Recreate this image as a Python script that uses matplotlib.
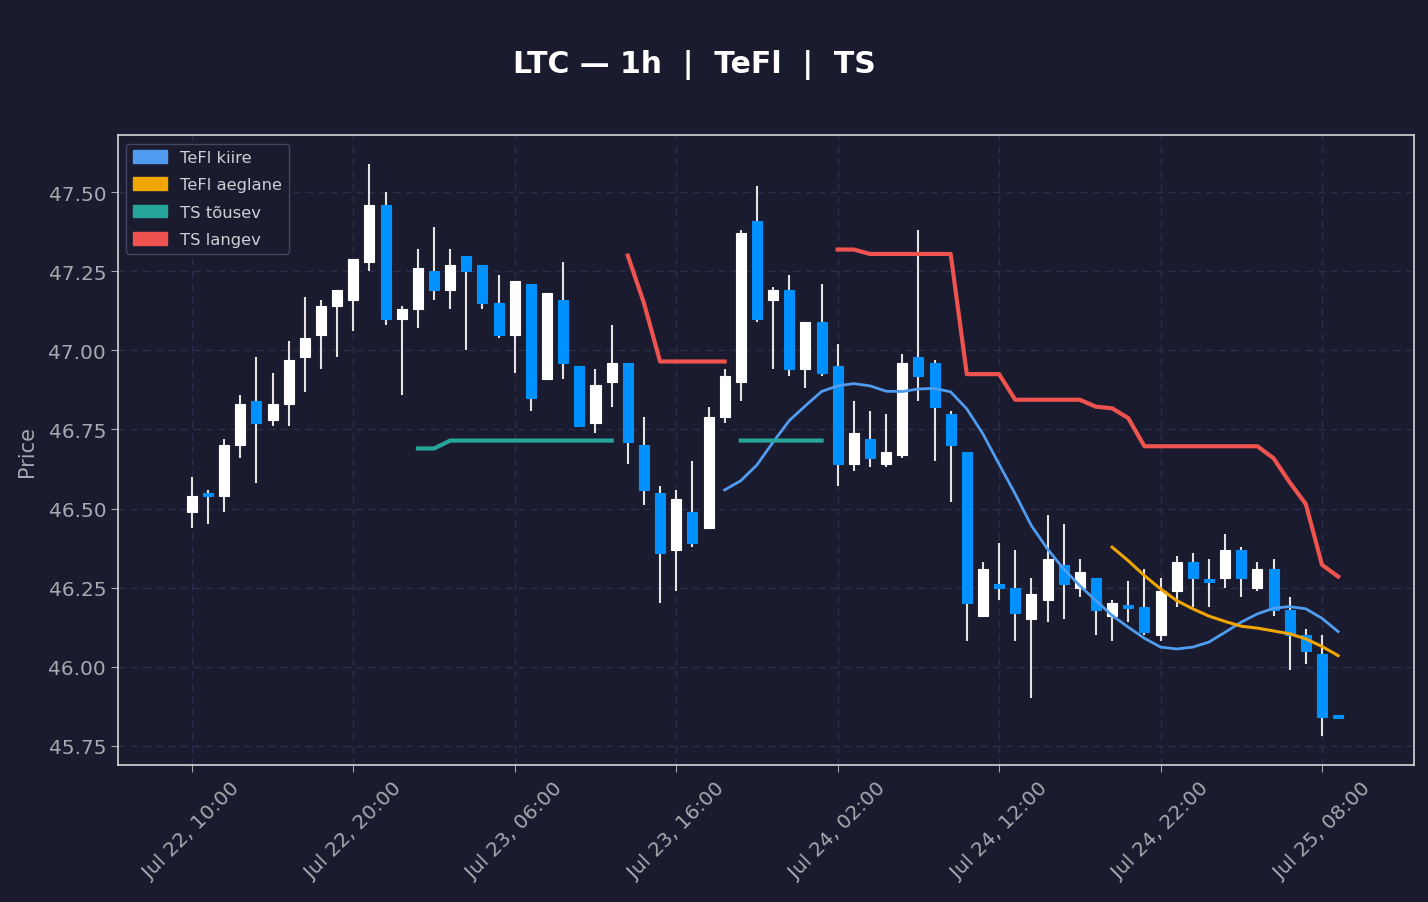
import numpy as np
import pandas as pd
import matplotlib
matplotlib.use("Agg")
import matplotlib.pyplot as plt
import matplotlib.dates as mdates
from matplotlib.patches import Patch

# hourly candles, Jul 22 10:00 -> Jul 25 09:00
times = pd.date_range("2025-07-22 10:00", periods=72, freq="h")

opens = [46.49, 46.545, 46.54, 46.70, 46.84, 46.78, 46.83, 46.98, 47.05, 47.14,
         47.16, 47.28, 47.46, 47.10, 47.13, 47.25, 47.19, 47.30, 47.27, 47.15,
         47.05, 47.21, 46.91, 47.16, 46.95, 46.77, 46.90, 46.96, 46.70, 46.55,
         46.37, 46.49, 46.44, 46.79, 46.90, 47.41, 47.16, 47.19, 46.94, 47.09,
         46.95, 46.64, 46.72, 46.64, 46.67, 46.98, 46.96, 46.80, 46.68, 46.16,
         46.26, 46.25, 46.15, 46.21, 46.32, 46.25, 46.28, 46.16, 46.19, 46.19,
         46.10, 46.24, 46.33, 46.27, 46.28, 46.37, 46.25, 46.31, 46.18, 46.10,
         46.04, 45.84]
highs = [46.60, 46.56, 46.72, 46.86, 46.98, 46.93, 47.03, 47.17, 47.16, 47.19,
         47.29, 47.59, 47.50, 47.14, 47.32, 47.39, 47.32, 47.30, 47.27, 47.24,
         47.22, 47.21, 47.18, 47.28, 46.95, 46.94, 47.08, 46.96, 46.79, 46.57,
         46.56, 46.65, 46.82, 46.94, 47.38, 47.52, 47.20, 47.24, 47.09, 47.21,
         47.02, 46.84, 46.81, 46.80, 46.99, 47.38, 46.97, 46.81, 46.68, 46.33,
         46.39, 46.37, 46.28, 46.48, 46.45, 46.34, 46.28, 46.21, 46.27, 46.31,
         46.28, 46.35, 46.36, 46.34, 46.42, 46.38, 46.33, 46.34, 46.22, 46.12,
         46.10, 45.84]
lows = [46.44, 46.45, 46.49, 46.66, 46.58, 46.76, 46.76, 46.87, 46.94, 46.98,
        47.06, 47.25, 47.08, 46.86, 47.07, 47.16, 47.13, 47.00, 47.13, 47.04,
        46.93, 46.81, 46.91, 46.91, 46.76, 46.74, 46.82, 46.64, 46.51, 46.20,
        46.24, 46.38, 46.44, 46.77, 46.84, 47.09, 46.94, 46.92, 46.88, 46.92,
        46.57, 46.62, 46.63, 46.63, 46.66, 46.84, 46.65, 46.52, 46.08, 46.16,
        46.21, 46.08, 45.90, 46.14, 46.15, 46.22, 46.10, 46.08, 46.14, 46.10,
        46.08, 46.19, 46.19, 46.19, 46.25, 46.22, 46.24, 46.16, 45.99, 46.01,
        45.78, 45.84]
closes = [46.54, 46.54, 46.70, 46.83, 46.77, 46.83, 46.97, 47.04, 47.14, 47.19,
          47.29, 47.46, 47.10, 47.13, 47.26, 47.19, 47.27, 47.25, 47.15, 47.05,
          47.22, 46.85, 47.18, 46.96, 46.76, 46.89, 46.96, 46.71, 46.56, 46.36,
          46.53, 46.39, 46.79, 46.92, 47.37, 47.10, 47.19, 46.94, 47.09, 46.93,
          46.64, 46.74, 46.66, 46.68, 46.96, 46.92, 46.82, 46.70, 46.20, 46.31,
          46.25, 46.17, 46.23, 46.34, 46.26, 46.30, 46.18, 46.20, 46.187, 46.11,
          46.24, 46.33, 46.28, 46.268, 46.37, 46.28, 46.31, 46.18, 46.10, 46.05,
          45.84, 45.838]

N = None
tefl_fast = [N] * 33 + [46.559, 46.588, 46.638, 46.71, 46.778, 46.825, 46.87,
                        46.888, 46.895, 46.888, 46.871, 46.87, 46.878, 46.88,
                        46.869, 46.815, 46.736, 46.64, 46.546, 46.446, 46.372,
                        46.309, 46.256, 46.209, 46.162, 46.125, 46.09, 46.062,
                        46.056, 46.062, 46.078, 46.109, 46.141, 46.167, 46.185,
                        46.19, 46.183, 46.153, 46.111]
tefl_slow = [N] * 57 + [46.378, 46.335, 46.288, 46.246, 46.209, 46.183, 46.16,
                        46.143, 46.128, 46.122, 46.113, 46.104, 46.088, 46.064,
                        46.035]
ts_up = ([N] * 14 + [46.69, 46.69] + [46.715] * 11 + [N] * 7 + [46.715] * 6
         + [N] * 32)
ts_down = ([N] * 27 + [47.30, 47.15] + [46.965] * 5 + [N] * 6
           + [47.319, 47.319] + [47.305] * 6 + [46.925] * 3 + [46.844] * 5
           + [46.822, 46.817, 46.786] + [46.697] * 8
           + [46.659, 46.583, 46.514, 46.322, 46.285])

bg = "#1a1b2e"
up_col = "#ffffff"
down_col = "#0091ff"
wick_col = "#e4e4e4"
fast_col = "#4f9cf0"
slow_col = "#f0a500"
tsup_col = "#26a69a"
tsdn_col = "#ef5350"

x = mdates.date2num(times.to_pydatetime())
o = np.array(opens)
h = np.array(highs)
l = np.array(lows)
c = np.array(closes)

fig = plt.figure(figsize=(14.28, 9.03), dpi=100, facecolor=bg)
ax = fig.add_axes([0.0826, 0.152, 0.9076, 0.697])
ax.set_facecolor(bg)

w = 0.62 / 24
up = c >= o
ax.vlines(x, l, h, color=wick_col, linewidth=1.5, zorder=2)
body_lo = np.minimum(o, c)
body_h = np.maximum(np.abs(c - o), 0.008)
cols = np.where(up, up_col, down_col)
ax.bar(x, body_h, width=w, bottom=body_lo, color=cols, edgecolor=cols,
       linewidth=0.8, zorder=3)

ax.plot(x, np.array(tefl_fast, dtype=float), color=fast_col, lw=2, zorder=4)
ax.plot(x, np.array(tefl_slow, dtype=float), color=slow_col, lw=2.2, zorder=4)
ax.plot(x, np.array(ts_up, dtype=float), color=tsup_col, lw=3, zorder=4)
ax.plot(x, np.array(ts_down, dtype=float), color=tsdn_col, lw=3, zorder=4)

ax.set_xlim(x[0] - 4.58 / 24, x[0] + 75.7 / 24)
ax.set_ylim(45.69, 47.68)
ax.set_yticks([45.75, 46.0, 46.25, 46.5, 46.75, 47.0, 47.25, 47.5])
ax.yaxis.set_major_formatter(plt.FormatStrFormatter("%.2f"))
ax.set_xticks(x[::10])
ax.set_xticklabels([t.strftime("%b %d, %H:%M") for t in times[::10]],
                   rotation=45)

ax.grid(True, color="#2d2d4d", linestyle=(0, (5, 4)), linewidth=1)
ax.set_axisbelow(True)
for s in ax.spines.values():
    s.set_color("#d6d6d6")
    s.set_linewidth(1.2)
ax.tick_params(colors="#a8a8b0", labelsize=14.5, length=5)
ax.tick_params(axis="x", pad=5)
ax.set_ylabel("Price", color="#a8a8b0", fontsize=15, labelpad=8)

handles = [Patch(color=fast_col, label="TeFl kiire"),
           Patch(color=slow_col, label="TeFl aeglane"),
           Patch(color=tsup_col, label="TS tõusev"),
           Patch(color=tsdn_col, label="TS langev")]
leg = ax.legend(handles=handles, loc="upper left", fontsize=11.8,
                facecolor=bg, edgecolor="#45455f", labelcolor="#cfcfd4",
                handlelength=2.1, handleheight=0.8, labelspacing=0.75,
                borderaxespad=0.5, framealpha=1)

fig.suptitle("LTC — 1h  |  TeFl  |  TS", color="white", fontsize=21.5,
             fontweight="bold", x=0.486, y=0.945)

fig.savefig("out.png", dpi=100, facecolor=bg)
